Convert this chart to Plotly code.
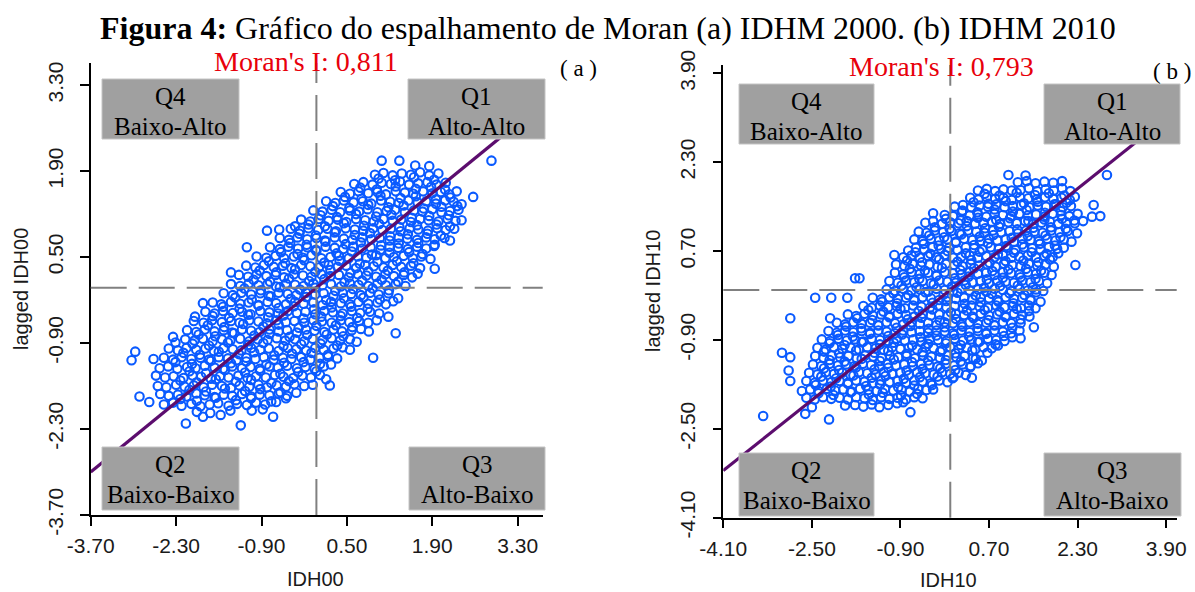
import plotly.graph_objects as go

# ---------------- data ----------------
MORAN_A = 0.811
MORAN_B = 0.793

TICKS_A = [-3.70, -2.30, -0.90, 0.50, 1.90, 3.30]
TICKTEXT_A = ["-3.70", "-2.30", "-0.90", "0.50", "1.90", "3.30"]
TICKS_B = [-4.10, -2.50, -0.90, 0.70, 2.30, 3.90]
TICKTEXT_B = ["-4.10", "-2.50", "-0.90", "0.70", "2.30", "3.90"]

QUADRANTS = [("Q4", "Baixo-Alto"), ("Q1", "Alto-Alto"), ("Q2", "Baixo-Baixo"), ("Q3", "Alto-Baixo")]

# (IDH00, lagged IDH00)
PTS_A = [
    (-2.14,-2.21),(-1.96,-2.02),(-1.74,-2.04),(-1.57,-2.07),(-1.41,-2.00),(-1.24,-2.24),(-1.06,-2.00),(-0.88,-1.98),(-0.71,-2.10),(-1.86,-2.10),
    (-2.90,-1.77),(-2.74,-1.86),(-2.50,-1.90),(-2.35,-1.87),(-2.21,-1.92),(-2.05,-1.89),(-1.90,-1.93),(-1.75,-1.90),(-1.61,-1.88),(-1.44,-1.92),(-1.30,-1.89),(-1.14,-1.91),(-0.99,-1.87),(-0.84,-1.90),(-0.66,-1.86),(-0.50,-1.80),
    (-2.56,-1.73),(-2.42,-1.76),(-2.27,-1.74),(-2.13,-1.77),(-1.97,-1.72),(-1.83,-1.75),(-1.67,-1.78),(-1.52,-1.74),(-1.38,-1.76),(-1.22,-1.73),(-1.07,-1.77),(-0.93,-1.74),(-0.77,-1.75),(-0.62,-1.72),(-0.48,-1.76),(-0.33,-1.71),
    (-2.60,-1.60),(-2.46,-1.62),(-2.30,-1.58),(-2.16,-1.61),(-2.01,-1.59),(-1.85,-1.62),(-1.71,-1.58),(-1.55,-1.60),(-1.40,-1.63),(-1.26,-1.59),(-1.10,-1.61),(-0.95,-1.58),(-0.81,-1.62),(-0.65,-1.59),(-0.50,-1.61),(-0.36,-1.57),(-0.20,-1.60),(-0.06,-1.58),(0.22,-1.59),
    (-2.63,-1.43),(-2.48,-1.46),(-2.34,-1.44),(-2.18,-1.47),(-2.03,-1.43),(-1.89,-1.45),(-1.73,-1.48),(-1.58,-1.44),(-1.44,-1.46),(-1.28,-1.43),(-1.13,-1.47),(-0.99,-1.44),(-0.83,-1.46),(-0.68,-1.42),(-0.54,-1.45),(-0.38,-1.47),(-0.23,-1.43),(-0.09,-1.46),(0.06,-1.42),(0.16,-1.49),
    (-2.57,-1.31),(-2.43,-1.28),(-2.28,-1.32),(-2.12,-1.29),(-1.98,-1.31),(-1.83,-1.27),(-1.67,-1.30),(-1.53,-1.32),(-1.38,-1.28),(-1.22,-1.31),(-1.08,-1.29),(-0.93,-1.32),(-0.77,-1.28),(-0.63,-1.30),(-0.48,-1.27),(-0.32,-1.31),(-0.18,-1.29),(-0.03,-1.32),(0.12,-1.28),(0.24,-1.25),
    (-3.03,-1.18),(-2.67,-1.16),(-2.50,-1.14),(-2.35,-1.17),(-2.21,-1.13),(-2.05,-1.16),(-1.90,-1.14),(-1.76,-1.17),(-1.60,-1.13),(-1.45,-1.15),(-1.31,-1.18),(-1.15,-1.14),(-1.00,-1.16),(-0.86,-1.13),(-0.70,-1.17),(-0.55,-1.14),(-0.41,-1.16),(-0.25,-1.13),(-0.10,-1.17),(0.05,-1.14),(0.19,-1.12),(0.34,-1.15),(0.93,-1.14),
    (-2.97,-1.04),(-2.42,-0.99),(-2.27,-1.02),(-2.13,-0.98),(-1.97,-1.01),(-1.82,-0.99),(-1.68,-1.03),(-1.52,-0.98),(-1.37,-1.00),(-1.23,-1.02),(-1.07,-0.98),(-0.92,-1.01),(-0.78,-0.99),(-0.62,-1.03),(-0.47,-0.98),(-0.33,-1.00),(-0.17,-1.02),(-0.02,-0.98),(0.12,-1.01),(0.28,-0.99),(0.43,-0.97),(0.55,-1.01),
    (-2.35,-0.80),(-2.31,-0.89),(-2.15,-0.84),(-2.00,-0.86),(-1.86,-0.83),(-1.70,-0.87),(-1.55,-0.84),(-1.41,-0.86),(-1.25,-0.83),(-1.10,-0.87),(-0.96,-0.84),(-0.80,-0.85),(-0.65,-0.82),(-0.51,-0.86),(-0.35,-0.84),(-0.20,-0.87),(-0.06,-0.83),(0.10,-0.85),(0.25,-0.82),(0.39,-0.86),(0.55,-0.84),(0.66,-0.88),
    (-2.12,-0.69),(-1.97,-0.72),(-1.83,-0.68),(-1.67,-0.71),(-1.52,-0.69),(-1.38,-0.73),(-1.22,-0.68),(-1.07,-0.70),(-0.93,-0.72),(-0.77,-0.68),(-0.62,-0.71),(-0.48,-0.69),(-0.32,-0.73),(-0.17,-0.68),(-0.03,-0.70),(0.13,-0.72),(0.28,-0.68),(0.42,-0.71),(0.58,-0.69),(0.73,-0.67),(0.86,-0.71),(1.30,-0.74),
    (-2.01,-0.54),(-1.85,-0.57),(-1.71,-0.53),(-1.55,-0.56),(-1.40,-0.54),(-1.26,-0.57),(-1.10,-0.53),(-0.95,-0.55),(-0.81,-0.58),(-0.65,-0.53),(-0.50,-0.56),(-0.36,-0.54),(-0.20,-0.57),(-0.05,-0.53),(0.09,-0.55),(0.25,-0.57),(0.40,-0.53),(0.54,-0.56),(0.70,-0.54),(0.85,-0.57),(0.99,-0.53),
    (-1.99,-0.47),(-1.82,-0.39),(-1.67,-0.42),(-1.53,-0.38),(-1.37,-0.41),(-1.22,-0.39),(-1.08,-0.43),(-0.92,-0.38),(-0.77,-0.40),(-0.63,-0.42),(-0.47,-0.38),(-0.32,-0.41),(-0.18,-0.39),(-0.02,-0.43),(0.13,-0.38),(0.27,-0.40),(0.43,-0.42),(0.58,-0.38),(0.72,-0.41),(0.88,-0.39),(1.03,-0.42),(1.18,-0.47),
    (-1.86,-0.25),(-1.70,-0.24),(-1.56,-0.27),(-1.40,-0.23),(-1.25,-0.26),(-1.11,-0.24),(-0.95,-0.28),(-0.80,-0.23),(-0.66,-0.25),(-0.50,-0.27),(-0.35,-0.23),(-0.21,-0.26),(-0.05,-0.24),(0.10,-0.28),(0.24,-0.23),(0.40,-0.25),(0.55,-0.27),(0.69,-0.23),(0.85,-0.26),(1.00,-0.24),(1.14,-0.27),(1.26,-0.22),
    (-1.52,-0.09),(-1.37,-0.12),(-1.23,-0.08),(-1.07,-0.11),(-0.92,-0.09),(-0.78,-0.13),(-0.62,-0.08),(-0.47,-0.10),(-0.33,-0.12),(-0.17,-0.08),(-0.02,-0.11),(0.12,-0.09),(0.28,-0.13),(0.43,-0.08),(0.57,-0.10),(0.73,-0.12),(0.88,-0.08),(1.02,-0.11),(1.18,-0.09),(1.34,-0.17),
    (-1.40,0.06),(-1.25,0.03),(-1.11,0.07),(-0.95,0.04),(-0.80,0.06),(-0.66,0.02),(-0.50,0.07),(-0.35,0.05),(-0.21,0.03),(-0.05,0.07),(0.10,0.04),(0.24,0.06),(0.40,0.02),(0.55,0.07),(0.69,0.05),(0.85,0.03),(1.00,0.07),(1.14,0.04),(1.30,0.06),(1.46,0.03),
    (-1.27,0.21),(-1.12,0.18),(-0.98,0.22),(-0.82,0.19),(-0.67,0.21),(-0.53,0.17),(-0.37,0.22),(-0.22,0.20),(-0.08,0.18),(0.08,0.22),(0.23,0.19),(0.37,0.21),(0.53,0.17),(0.68,0.22),(0.82,0.20),(0.98,0.18),(1.13,0.22),(1.27,0.19),(1.43,0.21),(1.57,0.17),(1.66,0.23),(1.94,0.31),
    (-1.40,0.25),(-1.15,0.36),(-1.00,0.33),(-0.86,0.37),(-0.70,0.34),(-0.55,0.36),(-0.41,0.32),(-0.25,0.37),(-0.10,0.35),(0.04,0.33),(0.20,0.37),(0.35,0.34),(0.49,0.36),(0.65,0.32),(0.80,0.37),(0.94,0.35),(1.10,0.33),(1.25,0.37),(1.39,0.34),(1.55,0.36),(1.70,0.32),
    (-0.98,0.51),(-0.82,0.49),(-0.67,0.52),(-0.53,0.48),(-0.37,0.51),(-0.22,0.49),(-0.08,0.53),(0.08,0.48),(0.23,0.50),(0.37,0.52),(0.53,0.48),(0.68,0.51),(0.82,0.49),(0.98,0.53),(1.13,0.48),(1.27,0.50),(1.43,0.52),(1.58,0.48),(1.72,0.51),(1.87,0.47),
    (-1.14,0.66),(-0.76,0.66),(-0.60,0.63),(-0.46,0.67),(-0.30,0.64),(-0.15,0.66),(-0.01,0.62),(0.15,0.67),(0.30,0.65),(0.44,0.63),(0.60,0.67),(0.75,0.64),(0.89,0.66),(1.05,0.62),(1.20,0.67),(1.34,0.65),(1.50,0.63),(1.65,0.67),(1.80,0.64),(1.93,0.68),
    (-0.60,0.81),(-0.45,0.78),(-0.31,0.82),(-0.15,0.79),(0.00,0.81),(0.14,0.77),(0.30,0.82),(0.45,0.80),(0.59,0.78),(0.75,0.82),(0.90,0.79),(1.04,0.81),(1.20,0.77),(1.35,0.82),(1.49,0.80),(1.65,0.78),(1.80,0.82),(1.94,0.79),(2.10,0.81),(2.19,0.77),
    (-0.81,0.93),(-0.61,0.95),(-0.42,0.96),(-0.27,0.93),(-0.13,0.97),(0.03,0.94),(0.18,0.96),(0.32,0.92),(0.48,0.97),(0.63,0.95),(0.77,0.93),(0.93,0.97),(1.08,0.94),(1.22,0.96),(1.38,0.92),(1.53,0.97),(1.67,0.95),(1.83,0.93),(1.98,0.97),(2.12,0.94),(2.26,0.96),
    (-0.35,1.00),(-0.25,1.11),(-0.10,1.08),(0.04,1.12),(0.20,1.09),(0.35,1.11),(0.49,1.07),(0.65,1.12),(0.80,1.10),(0.94,1.08),(1.10,1.12),(1.25,1.09),(1.39,1.11),(1.55,1.07),(1.70,1.12),(1.84,1.10),(2.00,1.08),(2.15,1.12),(2.28,1.09),(2.38,1.10),
    (-0.05,1.26),(0.10,1.24),(0.25,1.27),(0.39,1.23),(0.55,1.26),(0.70,1.24),(0.84,1.28),(1.00,1.23),(1.15,1.25),(1.29,1.27),(1.45,1.23),(1.60,1.26),(1.74,1.24),(1.90,1.28),(2.05,1.23),(2.19,1.25),(2.33,1.27),
    (0.16,1.41),(0.31,1.38),(0.45,1.42),(0.61,1.39),(0.76,1.41),(0.90,1.37),(1.06,1.42),(1.21,1.40),(1.35,1.38),(1.51,1.42),(1.66,1.39),(1.80,1.41),(1.96,1.37),(2.11,1.42),(2.25,1.40),(2.38,1.36),
    (0.40,1.56),(0.55,1.53),(0.69,1.57),(0.85,1.54),(1.00,1.56),(1.14,1.52),(1.30,1.57),(1.45,1.55),(1.59,1.53),(1.75,1.57),(1.90,1.54),(2.04,1.56),(2.18,1.52),(2.30,1.57),(2.57,1.48),
    (0.62,1.69),(0.77,1.72),(0.92,1.68),(1.07,1.71),(1.22,1.69),(1.37,1.73),(1.52,1.68),(1.67,1.70),(1.82,1.72),(1.97,1.68),(2.12,1.71),
    (0.96,1.84),(1.10,1.87),(1.25,1.83),(1.40,1.86),(1.55,1.84),(1.70,1.88),(1.85,1.83),(2.00,1.86),
    (1.07,2.07),(1.36,2.07),(1.62,1.99),(1.85,1.98),(2.87,2.07),
]

# extra overlapping municipalities in the dense core of panel (a)
PTS_A_CORE = [
    (-2.23,-1.81),(-1.96,-1.84),(-1.65,-1.79),(-1.32,-1.83),(-1.07,-1.80),(-0.74,-1.85),
    (-2.08,-1.66),(-1.81,-1.69),(-1.50,-1.64),(-1.17,-1.68),(-0.92,-1.65),(-0.59,-1.70),
    (-2.23,-1.51),(-1.96,-1.54),(-1.65,-1.49),(-1.32,-1.53),(-1.07,-1.50),(-0.74,-1.55),(-0.45,-1.52),
    (-2.08,-1.36),(-1.81,-1.39),(-1.50,-1.34),(-1.17,-1.38),(-0.92,-1.35),(-0.59,-1.40),(-0.30,-1.37),(0.00,-1.36),
    (-2.31,-1.21),(-2.04,-1.24),(-1.73,-1.19),(-1.40,-1.23),(-1.15,-1.20),(-0.82,-1.25),(-0.53,-1.22),(-0.21,-1.21),(0.06,-1.24),
    (-2.18,-1.06),(-1.91,-1.09),(-1.60,-1.04),(-1.27,-1.08),(-1.02,-1.05),(-0.69,-1.10),(-0.40,-1.07),(-0.08,-1.06),(0.19,-1.09),
    (-2.03,-0.91),(-1.76,-0.94),(-1.45,-0.89),(-1.12,-0.93),(-0.87,-0.90),(-0.54,-0.95),(-0.25,-0.92),(0.07,-0.91),(0.34,-0.94),
    (-1.93,-0.76),(-1.66,-0.79),(-1.35,-0.74),(-1.02,-0.78),(-0.77,-0.75),(-0.44,-0.80),(-0.15,-0.77),(0.17,-0.76),(0.44,-0.79),
    (-1.78,-0.61),(-1.51,-0.64),(-1.20,-0.59),(-0.87,-0.63),(-0.62,-0.60),(-0.29,-0.65),(0.00,-0.62),(0.32,-0.61),(0.59,-0.64),
    (-1.70,-0.46),(-1.43,-0.49),(-1.12,-0.44),(-0.79,-0.48),(-0.54,-0.45),(-0.21,-0.50),(0.08,-0.47),(0.40,-0.46),(0.67,-0.49),
    (-1.53,-0.31),(-1.26,-0.34),(-0.95,-0.29),(-0.62,-0.33),(-0.37,-0.30),(-0.04,-0.35),(0.25,-0.32),(0.57,-0.31),(0.84,-0.34),
    (-1.33,-0.16),(-1.06,-0.19),(-0.75,-0.14),(-0.42,-0.18),(-0.17,-0.15),(0.16,-0.20),(0.45,-0.17),(0.77,-0.16),(1.04,-0.19),
    (-1.18,-0.01),(-0.91,-0.04),(-0.60,0.01),(-0.27,-0.03),(-0.02,0.00),(0.31,-0.05),(0.60,-0.02),(0.92,-0.01),(1.19,-0.04),
    (-1.03,0.13),(-0.76,0.10),(-0.45,0.15),(-0.12,0.11),(0.13,0.14),(0.46,0.09),(0.75,0.12),(1.07,0.13),(1.34,0.10),
    (-0.93,0.28),(-0.66,0.25),(-0.35,0.30),(-0.02,0.26),(0.23,0.29),(0.56,0.24),(0.85,0.27),(1.17,0.28),(1.44,0.25),
    (-0.78,0.43),(-0.51,0.40),(-0.20,0.45),(0.13,0.41),(0.38,0.44),(0.71,0.39),(1.00,0.42),(1.32,0.43),(1.59,0.40),
    (-0.58,0.58),(-0.31,0.55),(0.00,0.60),(0.33,0.56),(0.58,0.59),(0.91,0.54),(1.20,0.57),(1.52,0.58),(1.74,0.55),
    (-0.43,0.73),(-0.16,0.70),(0.15,0.75),(0.48,0.71),(0.73,0.74),(1.06,0.69),(1.35,0.72),(1.67,0.73),(1.94,0.70),
    (-0.28,0.88),(-0.01,0.85),(0.30,0.90),(0.63,0.86),(0.88,0.89),(1.21,0.84),(1.50,0.87),(1.82,0.88),(2.04,0.85),
    (-0.13,1.03),(0.14,1.00),(0.45,1.05),(0.78,1.01),(1.03,1.04),(1.36,0.99),(1.65,1.02),(1.97,1.03),(2.19,1.00),
    (0.07,1.18),(0.34,1.15),(0.65,1.20),(0.98,1.16),(1.23,1.19),(1.56,1.14),(1.85,1.17),(2.17,1.18),
    (0.27,1.33),(0.54,1.30),(0.85,1.35),(1.18,1.31),(1.43,1.34),(1.76,1.29),(2.05,1.32),(2.31,1.33),
    (0.47,1.48),(0.74,1.45),(1.05,1.50),(1.38,1.46),(1.63,1.49),(1.96,1.44),(2.20,1.47),
    (0.72,1.63),(0.99,1.60),(1.30,1.65),(1.63,1.61),(1.88,1.64),(2.11,1.60),
    (1.02,1.78),(1.29,1.75),(1.60,1.80),(1.93,1.76),
]

# (IDH10, lagged IDH10)
PTS_B = [
    (-3.38,-2.27),(-2.19,-2.33),(-0.72,-2.20),(-2.62,-2.23),
    (-2.50,-2.11),(-1.90,-2.08),(-1.72,-2.07),(-1.57,-2.10),(-1.42,-2.06),(-1.28,-2.11),(-1.12,-2.07),(-0.96,-2.04),(-0.85,-2.02),
    (-2.60,-1.94),(-2.45,-1.97),(-2.30,-1.93),(-2.15,-1.96),(-2.00,-1.94),(-1.85,-1.97),(-1.70,-1.93),(-1.55,-1.95),(-1.40,-1.98),(-1.25,-1.93),(-1.10,-1.96),(-0.95,-1.94),(-0.80,-1.97),(-0.65,-1.93),(-0.50,-1.95),
    (-2.68,-1.82),(-2.53,-1.79),(-2.38,-1.82),(-2.23,-1.78),(-2.08,-1.81),(-1.93,-1.79),(-1.78,-1.83),(-1.63,-1.78),(-1.48,-1.80),(-1.33,-1.82),(-1.18,-1.78),(-1.03,-1.81),(-0.88,-1.79),(-0.73,-1.83),(-0.58,-1.78),(-0.43,-1.80),(-0.31,-1.79),
    (-2.89,-1.64),(-2.60,-1.64),(-2.45,-1.67),(-2.30,-1.63),(-2.15,-1.66),(-2.00,-1.64),(-1.85,-1.67),(-1.70,-1.63),(-1.55,-1.65),(-1.40,-1.68),(-1.25,-1.63),(-1.10,-1.66),(-0.95,-1.64),(-0.80,-1.67),(-0.65,-1.63),(-0.50,-1.65),(-0.35,-1.68),(-0.20,-1.63),(-0.05,-1.66),(0.06,-1.57),
    (-2.92,-1.45),(-2.55,-1.49),(-2.40,-1.52),(-2.25,-1.48),(-2.10,-1.51),(-1.95,-1.49),(-1.80,-1.53),(-1.65,-1.48),(-1.50,-1.50),(-1.35,-1.52),(-1.20,-1.48),(-1.05,-1.51),(-0.90,-1.49),(-0.75,-1.53),(-0.60,-1.48),(-0.45,-1.50),(-0.30,-1.52),(-0.15,-1.48),(0.00,-1.51),(0.15,-1.49),(0.28,-1.53),(0.39,-1.58),
    (-2.48,-1.34),(-2.33,-1.37),(-2.18,-1.33),(-2.03,-1.36),(-1.88,-1.34),(-1.73,-1.37),(-1.58,-1.33),(-1.43,-1.35),(-1.28,-1.38),(-1.13,-1.33),(-0.98,-1.36),(-0.83,-1.34),(-0.68,-1.37),(-0.53,-1.33),(-0.38,-1.35),(-0.23,-1.38),(-0.08,-1.33),(0.07,-1.36),(0.22,-1.34),(0.37,-1.37),(0.50,-1.32),
    (-3.04,-1.13),(-2.89,-1.21),(-2.44,-1.19),(-2.29,-1.22),(-2.14,-1.18),(-1.99,-1.21),(-1.84,-1.19),(-1.69,-1.23),(-1.54,-1.18),(-1.39,-1.20),(-1.24,-1.22),(-1.09,-1.18),(-0.94,-1.21),(-0.79,-1.19),(-0.64,-1.23),(-0.49,-1.18),(-0.34,-1.20),(-0.19,-1.22),(-0.04,-1.18),(0.11,-1.21),(0.26,-1.19),(0.41,-1.23),(0.57,-1.27),
    (-2.40,-1.04),(-2.25,-1.07),(-2.10,-1.03),(-1.95,-1.06),(-1.80,-1.04),(-1.65,-1.07),(-1.50,-1.03),(-1.35,-1.05),(-1.20,-1.08),(-1.05,-1.03),(-0.90,-1.06),(-0.75,-1.04),(-0.60,-1.07),(-0.45,-1.03),(-0.30,-1.05),(-0.15,-1.08),(0.00,-1.03),(0.15,-1.06),(0.30,-1.04),(0.45,-1.07),(0.60,-1.03),(0.75,-1.05),(0.86,-1.00),
    (-2.32,-0.89),(-2.17,-0.92),(-2.02,-0.88),(-1.87,-0.91),(-1.72,-0.89),(-1.57,-0.93),(-1.42,-0.88),(-1.27,-0.90),(-1.12,-0.92),(-0.97,-0.88),(-0.82,-0.91),(-0.67,-0.89),(-0.52,-0.93),(-0.37,-0.88),(-0.22,-0.90),(-0.07,-0.92),(0.08,-0.88),(0.23,-0.91),(0.38,-0.89),(0.53,-0.93),(0.68,-0.88),(0.83,-0.90),(0.98,-0.92),(1.12,-0.85),(1.27,-0.87),
    (-2.20,-0.74),(-2.05,-0.77),(-1.90,-0.73),(-1.75,-0.76),(-1.60,-0.74),(-1.45,-0.77),(-1.30,-0.73),(-1.15,-0.75),(-1.00,-0.78),(-0.85,-0.73),(-0.70,-0.76),(-0.55,-0.74),(-0.40,-0.77),(-0.25,-0.73),(-0.10,-0.75),(0.05,-0.78),(0.20,-0.73),(0.35,-0.76),(0.50,-0.74),(0.65,-0.77),(0.80,-0.73),(0.95,-0.75),(1.10,-0.78),(1.25,-0.73),
    (-2.05,-0.59),(-1.90,-0.62),(-1.75,-0.58),(-1.60,-0.61),(-1.45,-0.59),(-1.30,-0.63),(-1.15,-0.58),(-1.00,-0.60),(-0.85,-0.62),(-0.70,-0.58),(-0.55,-0.61),(-0.40,-0.59),(-0.25,-0.63),(-0.10,-0.58),(0.05,-0.60),(0.20,-0.62),(0.35,-0.58),(0.50,-0.61),(0.65,-0.59),(0.80,-0.63),(0.95,-0.58),(1.10,-0.60),(1.27,-0.60),(1.51,-0.67),
    (-2.89,-0.51),(-2.17,-0.51),(-1.85,-0.44),(-1.70,-0.47),(-1.55,-0.43),(-1.40,-0.46),(-1.25,-0.44),(-1.10,-0.47),(-0.95,-0.43),(-0.80,-0.45),(-0.65,-0.48),(-0.50,-0.43),(-0.35,-0.46),(-0.20,-0.44),(-0.05,-0.47),(0.10,-0.43),(0.25,-0.45),(0.40,-0.48),(0.55,-0.43),(0.70,-0.46),(0.85,-0.44),(1.00,-0.47),(1.15,-0.43),(1.30,-0.45),(1.43,-0.48),
    (-1.57,-0.29),(-1.42,-0.32),(-1.27,-0.28),(-1.12,-0.31),(-0.97,-0.29),(-0.82,-0.33),(-0.67,-0.28),(-0.52,-0.30),(-0.37,-0.32),(-0.22,-0.28),(-0.07,-0.31),(0.08,-0.29),(0.23,-0.33),(0.38,-0.28),(0.53,-0.30),(0.68,-0.32),(0.83,-0.28),(0.98,-0.31),(1.13,-0.29),(1.28,-0.33),(1.42,-0.28),(1.54,-0.33),
    (-2.44,-0.14),(-2.15,-0.14),(-1.86,-0.14),(-1.40,-0.14),(-1.25,-0.17),(-1.10,-0.13),(-0.95,-0.16),(-0.80,-0.14),(-0.65,-0.17),(-0.50,-0.13),(-0.35,-0.15),(-0.20,-0.18),(-0.05,-0.13),(0.10,-0.16),(0.25,-0.14),(0.40,-0.17),(0.55,-0.13),(0.70,-0.15),(0.85,-0.18),(1.00,-0.13),(1.15,-0.16),(1.30,-0.14),(1.45,-0.17),(1.63,-0.21),
    (-1.15,0.01),(-1.00,-0.02),(-0.85,0.02),(-0.70,-0.01),(-0.55,0.01),(-0.40,-0.03),(-0.25,0.02),(-0.10,0.00),(0.05,-0.02),(0.20,0.02),(0.35,-0.01),(0.50,0.01),(0.65,-0.03),(0.80,0.02),(0.95,0.00),(1.10,-0.02),(1.25,0.02),(1.40,-0.01),(1.55,0.01),(1.68,-0.02),
    (-1.72,0.21),(-1.64,0.21),(-1.10,0.16),(-0.95,0.13),(-0.80,0.17),(-0.65,0.14),(-0.50,0.16),(-0.35,0.12),(-0.20,0.17),(-0.05,0.15),(0.10,0.13),(0.25,0.17),(0.40,0.14),(0.55,0.16),(0.70,0.12),(0.85,0.17),(1.00,0.15),(1.15,0.13),(1.30,0.17),(1.45,0.14),(1.60,0.16),(1.75,0.12),
    (-1.00,0.31),(-0.85,0.28),(-0.70,0.32),(-0.55,0.29),(-0.40,0.31),(-0.25,0.27),(-0.10,0.32),(0.05,0.30),(0.20,0.28),(0.35,0.32),(0.50,0.29),(0.65,0.31),(0.80,0.27),(0.95,0.32),(1.10,0.30),(1.25,0.28),(1.40,0.32),(1.55,0.29),(1.70,0.31),(1.83,0.27),
    (-0.98,0.46),(-0.83,0.43),(-0.68,0.47),(-0.53,0.44),(-0.38,0.46),(-0.23,0.42),(-0.08,0.47),(0.07,0.45),(0.22,0.43),(0.37,0.47),(0.52,0.44),(0.67,0.46),(0.82,0.42),(0.97,0.47),(1.12,0.45),(1.27,0.43),(1.42,0.47),(1.57,0.44),(1.72,0.46),(1.87,0.42),(2.26,0.45),
    (-1.01,0.63),(-0.85,0.59),(-0.70,0.62),(-0.55,0.58),(-0.40,0.61),(-0.25,0.59),(-0.10,0.63),(0.05,0.58),(0.20,0.60),(0.35,0.62),(0.50,0.58),(0.65,0.61),(0.80,0.59),(0.95,0.63),(1.10,0.58),(1.25,0.60),(1.40,0.62),(1.55,0.58),(1.70,0.61),(1.85,0.59),(1.95,0.66),
    (-0.76,0.71),(-0.62,0.76),(-0.47,0.73),(-0.32,0.77),(-0.17,0.74),(-0.02,0.76),(0.13,0.72),(0.28,0.77),(0.43,0.75),(0.58,0.73),(0.73,0.77),(0.88,0.74),(1.03,0.76),(1.18,0.72),(1.33,0.77),(1.48,0.75),(1.63,0.73),(1.78,0.77),(1.93,0.74),(2.05,0.76),
    (-0.65,0.91),(-0.50,0.88),(-0.35,0.92),(-0.20,0.89),(-0.05,0.91),(0.10,0.87),(0.25,0.92),(0.40,0.90),(0.55,0.88),(0.70,0.92),(0.85,0.89),(1.00,0.91),(1.15,0.87),(1.30,0.92),(1.45,0.90),(1.60,0.88),(1.75,0.92),(1.90,0.89),(2.05,0.91),(2.19,0.87),
    (-0.57,1.05),(-0.43,1.03),(-0.28,1.07),(-0.13,1.04),(0.02,1.06),(0.17,1.02),(0.32,1.07),(0.47,1.05),(0.62,1.03),(0.77,1.07),(0.92,1.04),(1.07,1.06),(1.22,1.02),(1.37,1.07),(1.52,1.05),(1.67,1.03),(1.82,1.07),(1.97,1.04),(2.12,1.06),(2.29,1.02),
    (-0.45,1.21),(-0.31,1.24),(-0.15,1.19),(0.00,1.22),(0.15,1.20),(0.30,1.24),(0.45,1.19),(0.60,1.21),(0.75,1.23),(0.90,1.19),(1.05,1.22),(1.20,1.20),(1.35,1.24),(1.50,1.19),(1.65,1.21),(1.80,1.23),(1.95,1.19),(2.10,1.22),(2.25,1.20),(2.40,1.24),
    (-0.31,1.38),(-0.10,1.35),(0.05,1.33),(0.21,1.41),(0.35,1.34),(0.50,1.36),(0.65,1.32),(0.80,1.37),(0.95,1.35),(1.10,1.33),(1.25,1.37),(1.40,1.34),(1.55,1.36),(1.70,1.32),(1.85,1.37),(2.00,1.35),(2.15,1.33),(2.30,1.37),(2.56,1.32),(2.71,1.33),
    (0.08,1.50),(0.23,1.53),(0.38,1.49),(0.53,1.52),(0.68,1.50),(0.83,1.54),(0.98,1.49),(1.13,1.51),(1.28,1.53),(1.43,1.49),(1.58,1.52),(1.73,1.50),(1.88,1.54),(2.03,1.49),(2.18,1.51),(2.59,1.53),
    (0.36,1.66),(0.51,1.63),(0.66,1.67),(0.81,1.64),(0.96,1.66),(1.11,1.62),(1.26,1.67),(1.41,1.65),(1.56,1.63),(1.71,1.67),(1.86,1.64),(2.01,1.66),(2.16,1.62),(2.25,1.68),
    (0.50,1.79),(0.66,1.82),(0.81,1.78),(0.96,1.81),(1.11,1.79),(1.27,1.80),(1.42,1.83),(1.57,1.78),(1.72,1.81),(1.87,1.79),(2.02,1.83),(2.17,1.78),
    (1.22,1.94),(1.38,1.96),(1.54,1.92),(1.70,1.95),(1.86,1.93),(2.02,1.96),(1.05,2.07),(1.36,2.06),(2.83,2.07),
]

# extra overlapping municipalities in the dense core of panel (b)
PTS_B_CORE = [
    (-2.38,-1.86),(-2.11,-1.89),(-1.80,-1.84),(-1.47,-1.88),(-1.22,-1.85),(-0.89,-1.90),(-0.60,-1.87),
    (-2.43,-1.71),(-2.16,-1.74),(-1.85,-1.69),(-1.52,-1.73),(-1.27,-1.70),(-0.94,-1.75),(-0.65,-1.72),(-0.33,-1.71),
    (-2.33,-1.56),(-2.06,-1.59),(-1.75,-1.54),(-1.42,-1.58),(-1.17,-1.55),(-0.84,-1.60),(-0.55,-1.57),(-0.23,-1.56),(0.04,-1.59),
    (-2.28,-1.41),(-2.01,-1.44),(-1.70,-1.39),(-1.37,-1.43),(-1.12,-1.40),(-0.79,-1.45),(-0.50,-1.42),(-0.18,-1.41),(0.09,-1.44),(0.36,-1.39),
    (-2.18,-1.26),(-1.91,-1.29),(-1.60,-1.24),(-1.27,-1.28),(-1.02,-1.25),(-0.69,-1.30),(-0.40,-1.27),(-0.08,-1.26),(0.19,-1.29),(0.46,-1.24),
    (-2.28,-1.11),(-2.01,-1.14),(-1.70,-1.09),(-1.37,-1.13),(-1.12,-1.10),(-0.79,-1.15),(-0.50,-1.12),(-0.18,-1.11),(0.09,-1.14),(0.40,-1.09),(0.67,-1.13),
    (-2.18,-0.96),(-1.91,-0.99),(-1.60,-0.94),(-1.27,-0.98),(-1.02,-0.95),(-0.69,-1.00),(-0.40,-0.97),(-0.08,-0.96),(0.19,-0.99),(0.50,-0.94),(0.82,-0.98),
    (-2.03,-0.81),(-1.76,-0.84),(-1.45,-0.79),(-1.12,-0.83),(-0.87,-0.80),(-0.54,-0.85),(-0.25,-0.82),(0.07,-0.81),(0.34,-0.84),(0.65,-0.79),(0.97,-0.83),
    (-1.88,-0.66),(-1.61,-0.69),(-1.30,-0.64),(-0.97,-0.68),(-0.72,-0.65),(-0.39,-0.70),(-0.10,-0.67),(0.22,-0.66),(0.49,-0.69),(0.80,-0.64),(1.12,-0.68),
    (-1.68,-0.51),(-1.41,-0.54),(-1.10,-0.49),(-0.77,-0.53),(-0.52,-0.50),(-0.19,-0.55),(0.10,-0.52),(0.42,-0.51),(0.69,-0.54),(1.00,-0.49),(1.27,-0.53),
    (-1.48,-0.36),(-1.21,-0.39),(-0.90,-0.34),(-0.57,-0.38),(-0.32,-0.35),(0.01,-0.40),(0.30,-0.37),(0.62,-0.36),(0.89,-0.39),(1.20,-0.34),(1.42,-0.38),
    (-1.23,-0.21),(-0.96,-0.24),(-0.65,-0.19),(-0.32,-0.23),(-0.07,-0.20),(0.26,-0.25),(0.55,-0.22),(0.87,-0.21),(1.14,-0.24),(1.45,-0.19),
    (-1.03,-0.06),(-0.76,-0.09),(-0.45,-0.04),(-0.12,-0.08),(0.13,-0.05),(0.46,-0.10),(0.75,-0.07),(1.07,-0.06),(1.34,-0.09),(1.55,-0.04),
    (-0.88,0.08),(-0.61,0.05),(-0.30,0.10),(0.03,0.06),(0.28,0.09),(0.61,0.04),(0.90,0.07),(1.22,0.08),(1.49,0.05),
    (-0.83,0.23),(-0.56,0.20),(-0.25,0.25),(0.08,0.21),(0.33,0.24),(0.66,0.19),(0.95,0.22),(1.27,0.23),(1.54,0.20),
    (-0.73,0.38),(-0.46,0.35),(-0.15,0.40),(0.18,0.36),(0.43,0.39),(0.76,0.34),(1.05,0.37),(1.37,0.38),(1.64,0.35),
    (-0.78,0.53),(-0.51,0.50),(-0.20,0.55),(0.13,0.51),(0.38,0.54),(0.71,0.49),(1.00,0.52),(1.32,0.53),(1.59,0.50),(1.80,0.55),
    (-0.63,0.68),(-0.36,0.65),(-0.05,0.70),(0.28,0.66),(0.53,0.69),(0.86,0.64),(1.15,0.67),(1.47,0.68),(1.74,0.65),
    (-0.48,0.83),(-0.21,0.80),(0.10,0.85),(0.43,0.81),(0.68,0.84),(1.01,0.79),(1.30,0.82),(1.62,0.83),(1.89,0.80),
    (-0.38,0.98),(-0.11,0.95),(0.20,1.00),(0.53,0.96),(0.78,0.99),(1.11,0.94),(1.40,0.97),(1.72,0.98),(1.99,0.95),
    (-0.28,1.13),(-0.01,1.10),(0.30,1.15),(0.63,1.11),(0.88,1.14),(1.21,1.09),(1.50,1.12),(1.82,1.13),(2.09,1.10),
    (-0.08,1.28),(0.19,1.25),(0.50,1.30),(0.83,1.26),(1.08,1.29),(1.41,1.24),(1.70,1.27),(2.02,1.28),(2.24,1.25),
    (0.22,1.43),(0.49,1.40),(0.80,1.45),(1.13,1.41),(1.38,1.44),(1.71,1.39),(2.00,1.42),
    (0.42,1.58),(0.69,1.55),(1.00,1.60),(1.33,1.56),(1.58,1.59),(1.91,1.54),(2.10,1.57),
    (0.62,1.73),(0.89,1.70),(1.20,1.75),(1.53,1.71),(1.78,1.74),(2.06,1.70),
]

IDH00 = [p[0] for p in PTS_A + PTS_A_CORE]
LAG_IDH00 = [p[1] for p in PTS_A + PTS_A_CORE]
IDH10 = [p[0] for p in PTS_B + PTS_B_CORE]
LAG_IDH10 = [p[1] for p in PTS_B + PTS_B_CORE]

# ---------------- style ----------------
W, H = 1195, 592
BLUE = "#0a5aff"
PURPLE = "#5c0d6e"
RED = "#e8000b"
SANS = "Liberation Sans, Arial, sans-serif"
SERIF = "Liberation Serif, Times New Roman, serif"

RANGE_XA = [-3.70, 3.71]
RANGE_YA = [-3.70, 3.66]
RANGE_XB = [-4.10, 4.09]
RANGE_YB = [-4.10, 4.05]


def px_x(p):
    return p / W


def px_y(p):
    return 1 - p / H


fig = go.Figure()

marker = dict(symbol="circle-open", size=8.5, color=BLUE, line=dict(width=2.1))

fig.add_trace(go.Scatter(x=IDH00, y=LAG_IDH00, mode="markers", marker=marker,
                         xaxis="x", yaxis="y", hoverinfo="skip", showlegend=False))
fig.add_trace(go.Scatter(x=RANGE_XA, y=[MORAN_A * v for v in RANGE_XA], mode="lines",
                         line=dict(color=PURPLE, width=3.2), xaxis="x", yaxis="y",
                         hoverinfo="skip", showlegend=False))
fig.add_trace(go.Scatter(x=IDH10, y=LAG_IDH10, mode="markers", marker=marker,
                         xaxis="x2", yaxis="y2", hoverinfo="skip", showlegend=False))
fig.add_trace(go.Scatter(x=RANGE_XB, y=[MORAN_B * v for v in RANGE_XB], mode="lines",
                         line=dict(color=PURPLE, width=3.2), xaxis="x2", yaxis="y2",
                         hoverinfo="skip", showlegend=False))

axis_common = dict(showline=True, linecolor="black", linewidth=1.5, ticks="outside",
                   ticklen=9, tickwidth=1.5, tickcolor="black", showgrid=False,
                   zeroline=False, tickfont=dict(family=SANS, size=21, color="#1a1a1a"),
                   tickmode="array", fixedrange=True, automargin=False)

fig.update_layout(
    template="none",
    width=W, height=H, autosize=False,
    margin=dict(l=0, r=0, t=0, b=0, pad=0, autoexpand=False),
    paper_bgcolor="white", plot_bgcolor="white",
    showlegend=False,
    xaxis=dict(axis_common, domain=[px_x(90.7), px_x(542.7)], range=RANGE_XA, anchor="y",
               tickvals=TICKS_A, ticktext=TICKTEXT_A, ticklabelstandoff=2),
    yaxis=dict(axis_common, domain=[px_y(515), px_y(63)], range=RANGE_YA, anchor="x",
               tickvals=TICKS_A, ticktext=TICKTEXT_A, tickangle=-90, ticklabelstandoff=9),
    xaxis2=dict(axis_common, domain=[px_x(723.3), px_x(1176.7)], range=RANGE_XB, anchor="y2",
                tickvals=TICKS_B, ticktext=TICKTEXT_B, ticklabelstandoff=2),
    yaxis2=dict(axis_common, domain=[px_y(517.7), px_y(65)], range=RANGE_YB, anchor="x2",
                tickvals=TICKS_B, ticktext=TICKTEXT_B, tickangle=-90, ticklabelstandoff=9),
)

shapes = []
dash = dict(color="#808080", width=2, dash="36px,12px")
for xr, yr in (("x", "y"), ("x2", "y2")):
    shapes.append(dict(type="line", xref=xr, yref=yr + " domain", x0=0, x1=0, y0=0, y1=1,
                       line=dash, layer="above"))
    shapes.append(dict(type="line", xref=xr + " domain", yref=yr, x0=0, x1=1, y0=0, y1=0,
                       line=dash, layer="above"))

# quadrant label boxes (pixel positions)
BOXES = [
    (102, 239, 79, 139), (408, 545, 79, 139), (102, 239, 447, 510), (409, 545, 447, 510),
    (739, 874, 84, 144), (1044, 1180, 84, 144), (739, 874, 453, 516), (1044, 1181, 453, 516),
]
annotations = []
for i, (x0, x1, yt, yb) in enumerate(BOXES):
    shapes.append(dict(type="rect", xref="paper", yref="paper",
                       x0=px_x(x0), x1=px_x(x1), y0=px_y(yb), y1=px_y(yt),
                       fillcolor="#a0a0a0", line=dict(color="#c4c4c4", width=1), layer="above"))
    q, name = QUADRANTS[i % 4]
    cx = (x0 + x1) / 2
    annotations.append(dict(text=q, x=px_x(cx), y=px_y(yt + 17), xref="paper", yref="paper",
                            showarrow=False, xanchor="center", yanchor="middle",
                            font=dict(family=SERIF, size=25, color="black")))
    annotations.append(dict(text=name, x=px_x(cx), y=px_y(yt + 47), xref="paper", yref="paper",
                            showarrow=False, xanchor="center", yanchor="middle",
                            font=dict(family=SERIF, size=25, color="black")))

texts = [
    ("<b>Figura 4:</b> Gráfico do espalhamento de Moran (a) IDHM 2000. (b) IDHM 2010",
     607.5, 28, SERIF, 32, "black", 0),
    ("Moran's I: 0,811", 306, 62, SERIF, 28, RED, 0),
    ("Moran's I: 0,793", 941, 67, SERIF, 28, RED, 0),
    ("( a )", 578, 68, SERIF, 23, "black", 0),
    ("( b )", 1172, 72, SERIF, 23, "black", 0),
    ("lagged IDH00", 21, 289, SANS, 20, "#1a1a1a", -90),
    ("IDH00", 315, 579, SANS, 20, "#1a1a1a", 0),
    ("lagged IDH10", 653, 291, SANS, 20, "#1a1a1a", -90),
    ("IDH10", 948, 580, SANS, 20, "#1a1a1a", 0),
]
for t, x, y, fam, size, col, ang in texts:
    annotations.append(dict(text=t, x=px_x(x), y=px_y(y), xref="paper", yref="paper",
                            showarrow=False, xanchor="center", yanchor="middle", textangle=ang,
                            font=dict(family=fam, size=size, color=col)))

fig.update_layout(shapes=shapes, annotations=annotations)

fig.write_html("out.html", config={"displayModeBar": False},
               post_script="document.body.style.margin='0';document.body.style.padding='0';"
                           "document.body.style.overflow='hidden';")
